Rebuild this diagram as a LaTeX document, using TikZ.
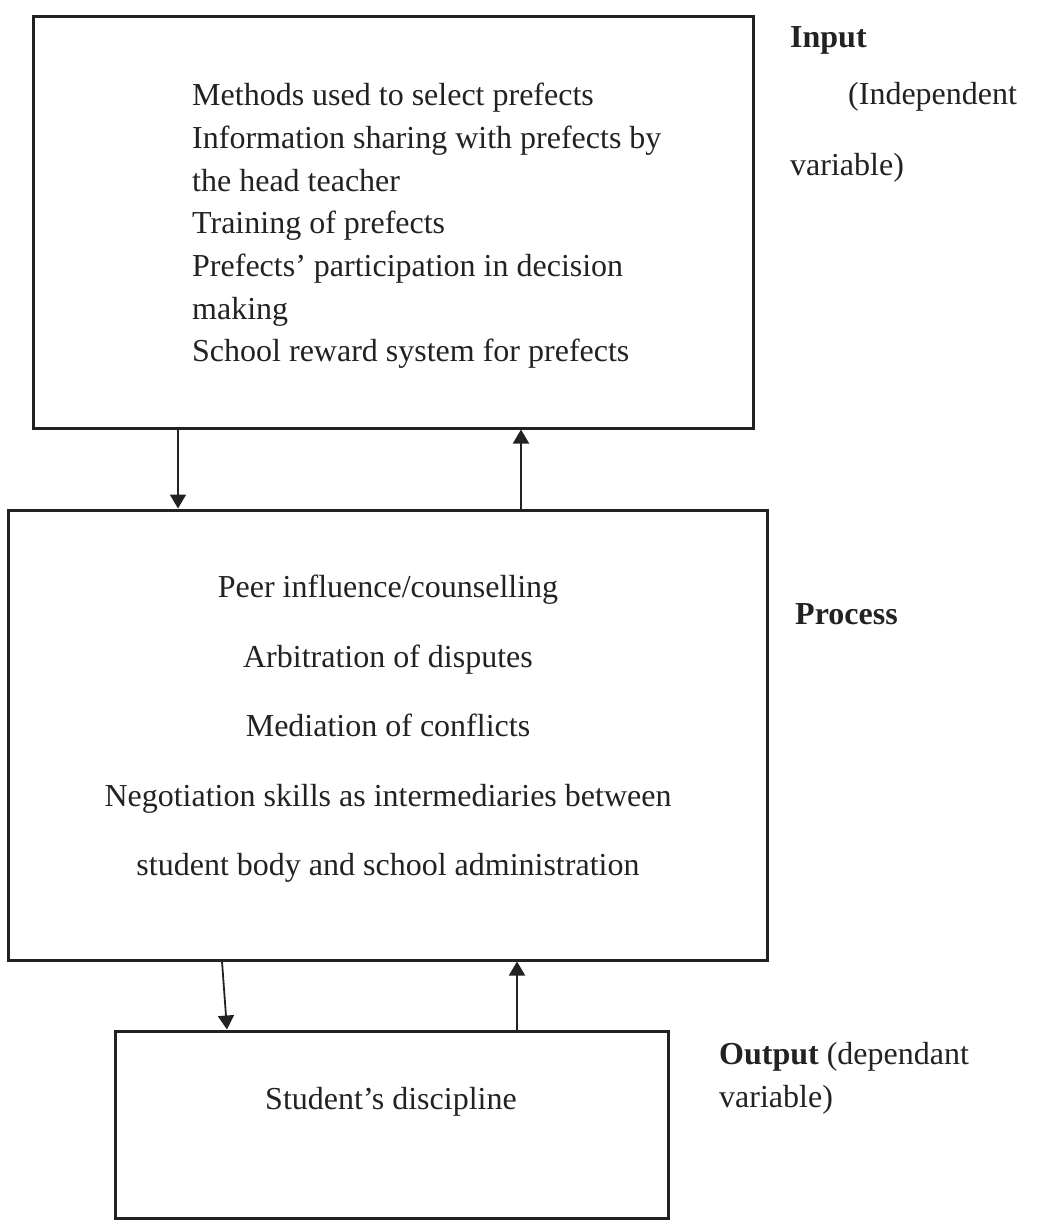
\documentclass[tikz,border=0pt]{standalone}
\usepackage{fontspec}
\setmainfont{Liberation Serif}
\usetikzlibrary{arrows.meta}
\definecolor{ink}{HTML}{222222}
\begin{document}
\begin{tikzpicture}[x=1pt,y=1pt,
  boxnode/.style={draw=ink,line width=3pt,rectangle,inner sep=0pt},
  conn/.style={draw=ink,line width=1.8pt,-{Triangle[width=16pt,length=14pt]}},
  txt/.style={text=ink,font=\fontsize{32}{42.7}\selectfont,inner sep=0pt},
  lbl/.style={text=ink,font=\fontsize{32}{42.7}\selectfont,inner sep=0pt,anchor=west}
]
\useasboundingbox (0,0) rectangle (1050,-1220);
\fill[white] (0,0) rectangle (1050,-1220);

% boxes
\node[boxnode,minimum width=720pt,minimum height=411pt] (box1) at (393,-222.5) {};
\node[boxnode,minimum width=759pt,minimum height=450pt] (box2) at (387.5,-735) {};
\node[boxnode,minimum width=553pt,minimum height=187pt] (box3) at (391.5,-1124.5) {};

% texts in boxes
\node[txt,align=left,anchor=west] (t1) at (192,-226) {Methods used to select prefects\\Information sharing with prefects by\\the head teacher\\Training of prefects\\Prefects’ participation in decision\\making\\School reward system for prefects};
\node[txt,align=center,font=\fontsize{32}{69.5}\selectfont] (t2) at (388,-729) {Peer influence/counselling\\Arbitration of disputes\\Mediation of conflicts\\Negotiation skills as intermediaries between\\student body and school administration};
\node[txt] (t3) at (391,-1102) {Student’s discipline};

% side labels
\node[lbl] (inp) at (790,-40) {\textbf{Input}};
\node[lbl] (ind) at (848,-97) {(Independent};
\node[lbl] (var1) at (790,-168) {variable)};
\node[lbl] (proc) at (795,-614) {\textbf{Process}};
\node[lbl] (outp) at (719,-1057) {\textbf{Output} (dependant};
\node[lbl] (var2) at (719,-1100) {variable)};

% connectors
\coordinate (c1) at (178,0);
\coordinate (c2) at (521,0);
\coordinate (c3) at (222,0);
\coordinate (c3b) at (227,0);
\coordinate (c4) at (517,0);
\draw[conn] (box1.south -| c1) -- (box2.north -| c1);
\draw[conn] (box2.north -| c2) -- (box1.south -| c2);
\draw[conn] (box2.south -| c3) -- (box3.north -| c3b);
\draw[conn] (box3.north -| c4) -- (box2.south -| c4);
\end{tikzpicture}
\end{document}
